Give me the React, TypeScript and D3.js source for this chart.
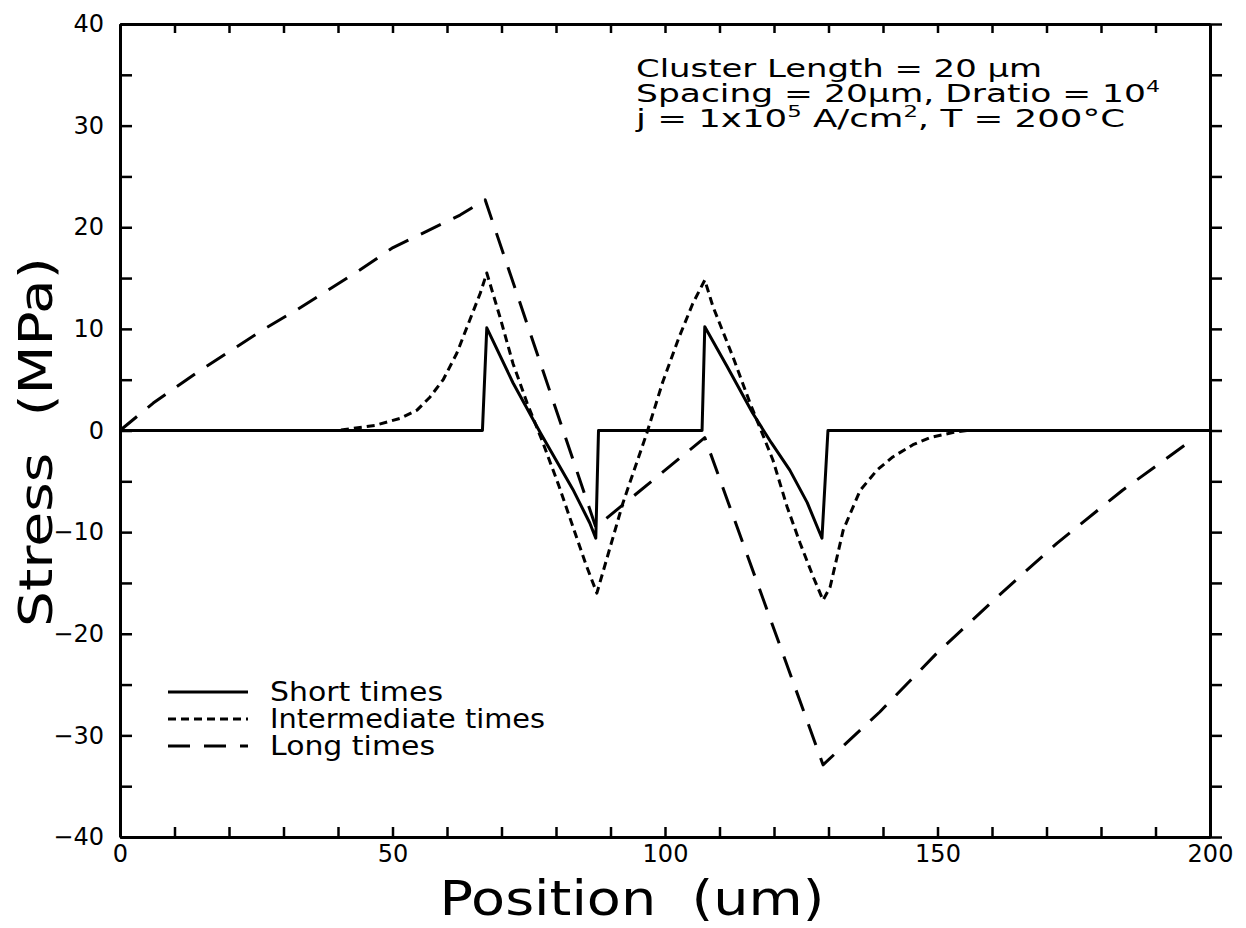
import { useEffect, useRef } from 'react';
import * as d3 from 'd3';

// Short times (solid)
const shortX = [0, 66.5, 67.3, 72.1, 77.1, 83.1, 86.2, 87.3, 87.8, 106.8, 107.3, 111.4, 116.1, 119.5, 122.9, 126.1, 128.8, 129.9, 200];
const shortY = [0, 0, 10.1, 4.7, -0.2, -5.8, -9.1, -10.6, 0, 0, 10.2, 6.3, 1.7, -1.2, -3.9, -7.1, -10.6, 0, 0];

// Intermediate times (dotted)
const midX = [0, 40, 46.8, 51.4, 54.5, 56.9, 59.3, 61.8, 64.2, 66.1, 67.3, 69.7, 72.1, 74.7, 77.6, 80.5, 83.0, 85.5, 87.5,
  92.3, 96.7, 99.6, 102.6, 105.1, 107.3, 108.8, 112.5, 115.6, 119.8, 122.4, 124.8, 127.2, 129.0,
  130.3, 132.7, 135.8, 138.9, 141.8, 145.5, 148.6, 152.8, 155.4, 200];
const midY = [0, 0, 0.5, 1.2, 2.0, 3.3, 5.0, 7.6, 10.9, 13.5, 15.5, 11.2, 6.6, 2.7, -1.2, -5.4, -9.3, -13.2, -16.0,
  -7.1, -0.2, 4.8, 9.2, 12.5, 14.8, 12.2, 7.2, 2.7, -2.9, -7.5, -11.1, -14.4, -16.7,
  -15.4, -9.8, -5.9, -3.9, -2.6, -1.4, -0.7, -0.2, 0, 0];

// Long times (dashed)
const longX = [0, 6.1, 14.1, 26.2, 32.5, 44, 50.1, 62.4, 67, 87.3, 107.3, 129, 139.4, 149.9, 160.9, 171.9, 183.9, 196];
const longY = [0, 2.7, 5.7, 9.9, 11.9, 15.8, 18.0, 21.2, 22.7, -9.5, -0.7, -32.9, -27.7, -21.9, -16.4, -11.1, -5.9, -1.2];

const seriesNames = ['Short times', 'Intermediate times', 'Long times'];
const seriesDash = [null, '8,5', '22,14'];

const xTicks = d3.range(0, 201, 10);
const yTicks = d3.range(-40, 41, 5);

export default function App() {
  const svgRef = useRef<SVGSVGElement>(null);

  useEffect(() => {
    document.body.style.margin = '0';
    const svg = d3.select(svgRef.current);
    svg.selectAll('*').remove();

    const font = '"DejaVu Sans", sans-serif';
    const x = d3.scaleLinear().domain([0, 200]).range([120, 1210]);
    const y = d3.scaleLinear().domain([-40, 40]).range([837, 24]);

    const styleAxis = (g: any) => {
      g.attr('font-family', font);
      g.select('.domain').attr('stroke', '#000').attr('stroke-width', 3);
      g.selectAll('.tick line').attr('stroke', '#000').attr('stroke-width', 2.5);
      g.selectAll('.tick text').attr('fill', '#000').attr('font-size', 24);
    };

    svg.append('g').attr('transform', 'translate(120,0)')
      .call(d3.axisLeft(y).tickValues(yTicks).tickSizeInner(-12).tickSizeOuter(0).tickPadding(16)
        .tickFormat((d: any) => (d % 10 === 0 ? d3.format('d')(d) : '')))
      .call(styleAxis);

    svg.append('g').attr('transform', 'translate(1210,0)')
      .call(d3.axisRight(y).tickValues(yTicks).tickSizeInner(12).tickSizeOuter(0).tickFormat(() => ''))
      .call(styleAxis);

    svg.append('g').attr('transform', 'translate(0,837)')
      .call(d3.axisBottom(x).tickValues(xTicks).tickSizeInner(-10).tickSizeOuter(0).tickPadding(8)
        .tickFormat((d: any) => (d % 50 === 0 ? String(d) : '')))
      .call(styleAxis);

    svg.append('g').attr('transform', 'translate(0,24)')
      .call(d3.axisTop(x).tickValues(xTicks).tickSizeInner(-9).tickSizeOuter(0).tickFormat(() => ''))
      .call(styleAxis);

    const line = d3.line<[number, number]>().x(d => x(d[0])).y(d => y(d[1]));
    const series = [
      d3.zip(shortX, shortY) as [number, number][],
      d3.zip(midX, midY) as [number, number][],
      d3.zip(longX, longY) as [number, number][],
    ];

    series.forEach((pts, i) => {
      svg.append('path').datum(pts)
        .attr('d', line)
        .attr('fill', 'none')
        .attr('stroke', '#000')
        .attr('stroke-width', 3)
        .attr('stroke-linejoin', 'round')
        .attr('stroke-dasharray', seriesDash[i]);
    });

    // legend
    const legY = [692, 719, 746];
    seriesNames.forEach((name, i) => {
      svg.append('line')
        .attr('x1', 168).attr('x2', 248).attr('y1', legY[i]).attr('y2', legY[i])
        .attr('stroke', '#000').attr('stroke-width', 3)
        .attr('stroke-dasharray', seriesDash[i]);
      svg.append('text')
        .attr('x', 270).attr('y', legY[i] + 9)
        .attr('font-family', font).attr('font-size', 26)
        .style('white-space', 'pre')
        .attr('textLength', [173, 275, 165][i]).attr('lengthAdjust', 'spacingAndGlyphs')
        .text(name);
    });

    // annotation
    const ann = svg.append('g').attr('font-family', font).attr('font-size', 25).style('white-space', 'pre');
    ann.append('text').attr('x', 636).attr('y', 77)
      .attr('textLength', 406).attr('lengthAdjust', 'spacingAndGlyphs')
      .text('Cluster  Length  =  20  μm');
    const t2 = ann.append('text').attr('x', 636).attr('y', 102)
      .attr('textLength', 524).attr('lengthAdjust', 'spacingAndGlyphs');
    t2.append('tspan').text('Spacing  =  20μm,  Dratio  =  10');
    t2.append('tspan').attr('dy', -10).attr('font-size', 16).text('4');
    const t3 = ann.append('text').attr('x', 636).attr('y', 127)
      .attr('textLength', 489).attr('lengthAdjust', 'spacingAndGlyphs');
    t3.append('tspan').text('j  =  1x10');
    t3.append('tspan').attr('dy', -10).attr('font-size', 16).text('5');
    t3.append('tspan').attr('dy', 10).text('  A/cm');
    t3.append('tspan').attr('dy', -10).attr('font-size', 16).text('2');
    t3.append('tspan').attr('dy', 10).text(',  T  =  200°C');

    // axis titles
    svg.append('text')
      .attr('x', 632).attr('y', 915).attr('text-anchor', 'middle')
      .attr('font-family', font).attr('font-size', 48)
      .style('white-space', 'pre')
      .attr('textLength', 385).attr('lengthAdjust', 'spacingAndGlyphs')
      .text('Position  (um)');
    svg.append('text')
      .attr('transform', 'translate(52,442) rotate(-90)')
      .attr('text-anchor', 'middle')
      .attr('font-family', font).attr('font-size', 46)
      .style('white-space', 'pre')
      .attr('textLength', 370).attr('lengthAdjust', 'spacingAndGlyphs')
      .text('Stress  (MPa)');
  }, []);

  return <svg ref={svgRef} width={1246} height={928} style={{ display: 'block', background: '#fff' }} />;
}
